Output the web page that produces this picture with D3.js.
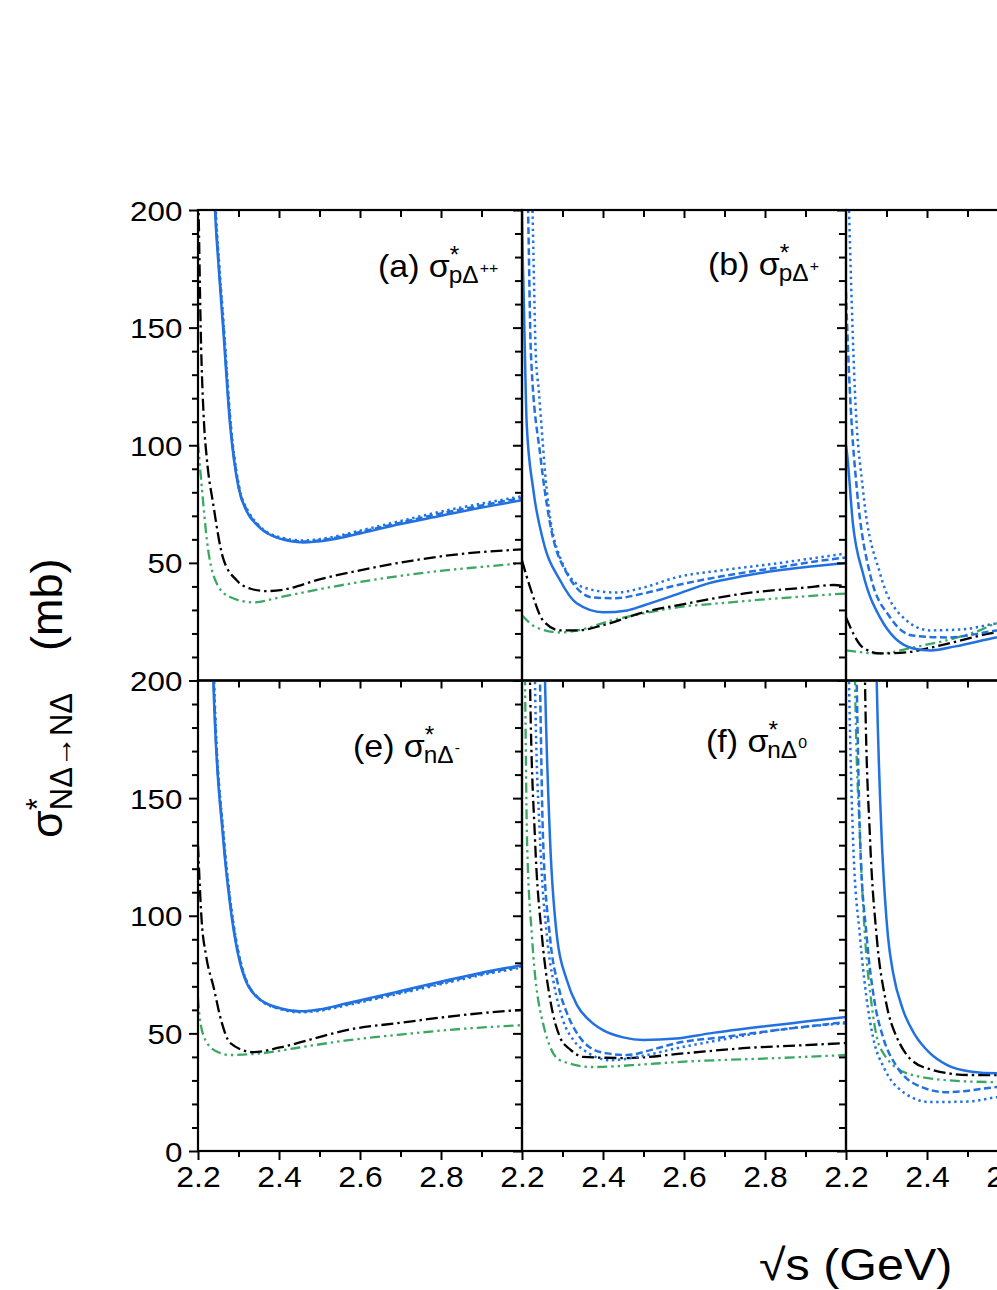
<!DOCTYPE html>
<html><head><meta charset="utf-8">
<script src="https://cdn.jsdelivr.net/npm/d3@7"></script>
<style>html,body{margin:0;padding:0;background:#fff;overflow:hidden}</style>
</head><body>
<svg id="chart" width="997" height="1290"></svg>
<script>
// ---------------- data ----------------
const xTickLabels = [2.2, 2.4, 2.6, 2.8];
const xMinorTicks = [2.3, 2.5, 2.7, 2.9];
const yMajorTicks = [0, 50, 100, 150, 200];
const yMinorTicks = [10,20,30,40,60,70,80,90,110,120,130,140,160,170,180,190];
const seriesNames = ["solid", "dashed", "dotted", "dashdot", "dashdotdot"];

// panel (a) sigma*_{p Delta++}
const aSolid  = [[2.236,230],[2.242,200],[2.25,178],[2.262,150],[2.279,109],[2.30,82],[2.32,72],[2.346,66],[2.40,60.4],[2.46,58.7],[2.52,59.6],[2.6,62.5],[2.7,66.5],[2.8,70],[2.9,73.5],[3.0,76.6]];
const aDashed = [[2.237,230],[2.243,200],[2.251,178],[2.263,150],[2.28,109],[2.301,82],[2.322,72],[2.348,66],[2.40,60.6],[2.46,59.1],[2.52,60.1],[2.6,63.1],[2.7,67.1],[2.8,71],[2.9,74.4],[3.0,77.6]];
const aDotted = [[2.238,230],[2.244,200],[2.252,178],[2.264,150],[2.281,109],[2.302,82],[2.324,72],[2.35,66],[2.40,61],[2.46,59.5],[2.52,60.6],[2.6,63.7],[2.7,67.8],[2.8,71.8],[2.9,75.2],[3.0,78.3]];
const aBlack  = [[2.2,215],[2.2015,200],[2.2066,150],[2.215,109],[2.2214,95],[2.238,74.5],[2.262,52],[2.2955,42.6],[2.33,39],[2.37,38],[2.41,38.6],[2.5,43],[2.6,46.8],[2.73,51],[2.86,54],[3.0,55.7]];
const aGreen  = [[2.2,101],[2.21,81],[2.222,59.6],[2.247,41],[2.279,35.5],[2.336,33.2],[2.40,35.3],[2.5,38.8],[2.57,41],[2.7,44.5],[2.81,46.8],[2.9,48.3],[3.0,49.8]];

// panel (b) sigma*_{p Delta+}
const bSolid  = [[2.1995,210],[2.2,200],[2.204,165],[2.2074,137],[2.2116,109],[2.228,81],[2.252,59.6],[2.294,42.6],[2.335,32.8],[2.40,29],[2.46,29.8],[2.5,31.9],[2.58,36.5],[2.66,41.3],[2.75,44.5],[2.83,46.8],[2.92,48.6],[3.0,50]];
const bDashed = [[2.213,215],[2.215,200],[2.222,139],[2.2457,95],[2.269,67],[2.311,45.5],[2.375,35.3],[2.43,35],[2.5,37],[2.58,40.4],[2.7,44.5],[2.83,48],[2.92,50.5],[3.0,52.3]];
const bDotted = [[2.224,215],[2.226,200],[2.234,139],[2.2416,123],[2.261,81],[2.294,52.3],[2.351,39.6],[2.43,37.4],[2.5,39.5],[2.58,43.8],[2.7,47],[2.83,49.8],[2.92,52],[3.0,54]];
const bBlack  = [[2.2,51],[2.22,39.6],[2.252,25.5],[2.294,21.3],[2.335,21.3],[2.4,23.5],[2.5,29],[2.6,32.5],[2.75,37],[2.9,39.5],[2.97,40.6],[3.0,40]];
const bGreen  = [[2.2,27.7],[2.235,22.6],[2.294,20.4],[2.35,21.8],[2.42,25.5],[2.5,28.5],[2.58,31],[2.7,33],[2.83,34.9],[3.0,37]];

// panel (c)
const cSolid  = [[2.2,100],[2.2025,96.6],[2.217,66.8],[2.242,45.5],[2.284,26.8],[2.366,13.6],[2.41,12.8],[2.47,14.5],[2.57,18.3],[2.7,22]];
const cDashed = [[2.2,165],[2.2025,152],[2.212,115],[2.227,81],[2.259,45.5],[2.309,26.8],[2.365,19.1],[2.449,18.3],[2.573,21.3],[2.7,24]];
const cDotted = [[2.205,215],[2.2074,200],[2.222,123],[2.242,81],[2.284,45.5],[2.341,26.8],[2.407,21.3],[2.49,21.8],[2.573,24.3],[2.7,26.5]];
const cBlack  = [[2.2,26.8],[2.242,14],[2.284,11.5],[2.35,12],[2.41,14],[2.556,20],[2.7,24]];
const cGreen  = [[2.2,12.8],[2.284,11.5],[2.365,14],[2.53,21.3],[2.573,24.3],[2.7,26]];

// panel (e) sigma*_{n Delta-}
const eSolid  = [[2.235,225],[2.2378,200],[2.262,133],[2.279,105],[2.3037,80],[2.3457,65.4],[2.4025,60.7],[2.452,59.4],[2.5,60.2],[2.568,62.8],[2.7,68],[2.815,72.6],[2.9,75.8],[3.0,79]];
const eDashed = [[2.236,225],[2.2388,200],[2.263,133],[2.280,105],[2.305,80],[2.347,65.4],[2.404,60.5],[2.454,59.3],[2.5,60],[2.568,62.4],[2.7,67.5],[2.815,72],[2.9,75.3],[3.0,78.5]];
const eDotted = [[2.237,225],[2.2398,200],[2.264,133],[2.281,105],[2.306,80],[2.348,65],[2.405,60.2],[2.455,59],[2.5,59.6],[2.568,62],[2.7,67],[2.815,71.5],[2.9,74.8],[3.0,78]];
const eBlack  = [[2.2,130],[2.209,98],[2.22,83],[2.238,70],[2.258,55],[2.279,46],[2.3366,42],[2.4025,44],[2.48,47.5],[2.567,51.4],[2.7,54.5],[2.814,57],[2.9,58.6],[3.0,60]];
const eGreen  = [[2.2,65],[2.205,55.6],[2.222,46],[2.25,42],[2.279,40.8],[2.36,41.6],[2.45,44],[2.567,47],[2.7,49.5],[2.814,51.4],[3.0,53.5]];

// panel (f) sigma*_{n Delta0}
const fSolid  = [[2.254,225],[2.2568,200],[2.2691,133],[2.2864,91],[2.31,73],[2.3358,62],[2.37,55],[2.4,51.4],[2.45,48.3],[2.5,47.2],[2.58,47.8],[2.664,50],[2.8,53],[2.9,55],[3.0,57]];
const fDashed = [[2.242,225],[2.2444,200],[2.2519,133],[2.2691,91],[2.29,70],[2.3111,58.6],[2.34,49],[2.3679,44],[2.41,41.5],[2.4593,40.8],[2.52,43],[2.5827,45.9],[2.7,48.5],[2.8296,51.4],[3.0,54.8]];
const fDotted = [[2.23,225],[2.232,200],[2.2444,133],[2.2617,91],[2.28,70],[2.3012,55.6],[2.33,46.5],[2.3605,42],[2.4173,38.6],[2.5,40.5],[2.5827,43.7],[2.7,47.5],[2.83,51.4],[3.0,54.3]];
const fBlack  = [[2.218,225],[2.2198,200],[2.232,133],[2.2494,91],[2.27,64],[2.2938,48.4],[2.32,43],[2.3506,40],[2.4593,39.5],[2.6,41.5],[2.7457,43.7],[2.9,45],[3.0,45.9]];
const fGreen  = [[2.205,225],[2.2074,200],[2.2123,133],[2.2247,91],[2.2519,54.3],[2.2938,38.6],[2.3753,35.7],[2.5,36.8],[2.5827,37.8],[2.83,39.5],[3.0,40.8]];

// panel (g)
const gSolid  = [[2.273,225],[2.2758,200],[2.2881,133],[2.296,108],[2.3037,91],[2.316,76],[2.3407,60],[2.37,49.5],[2.4074,41.6],[2.45,36.5],[2.5062,33.8],[2.5728,33],[2.7,34]];
const gDashed = [[2.224,225],[2.2264,200],[2.2346,133],[2.2511,91],[2.27,64],[2.2914,48.4],[2.325,36],[2.3654,28.9],[2.4494,25],[2.5728,27.2],[2.7,29]];
const gDotted = [[2.205,225],[2.2074,200],[2.2173,133],[2.2346,91],[2.25,66],[2.2667,48.4],[2.295,35],[2.3259,27.2],[2.4074,20.8],[2.5,21],[2.5728,22.9],[2.7,25]];
const gBlack  = [[2.245,225],[2.2469,200],[2.2593,133],[2.2758,91],[2.298,64],[2.3252,48.4],[2.3901,35.7],[2.5062,32.3],[2.5556,32.3],[2.7,33]];
const gGreen  = [[2.22,225],[2.2222,200],[2.2346,133],[2.2469,91],[2.262,64],[2.284,44],[2.3506,33],[2.4494,30.1],[2.5728,29.3],[2.7,30]];

const panelLetters = ["(a)", "(b)", "(c)", "(e)", "(f)", "(g)"];
const panelSubs    = ["pΔ", "pΔ", "", "nΔ", "nΔ", ""];
const panelSups    = ["++", "+", "", "-", "0", ""];

// ---------------- layout / style ----------------
const FONT = "'Liberation Sans', Arial, Helvetica, sans-serif";
const L = 198, T = 210, PW = 324, PH = 470.5;
const BLUE = "#2271e0", GREEN = "#3aa862", BLACK = "#000";
const styles = {
  solid:      {color: BLUE,  dash: null,               width: 2.5},
  dashed:     {color: BLUE,  dash: "7,3.5",            width: 2.5},
  dotted:     {color: BLUE,  dash: "2.4,3.6",          width: 2.5},
  dashdot:    {color: BLACK, dash: "12,4,2.4,4",       width: 2.3},
  dashdotdot: {color: GREEN, dash: "10,4,2.4,4,2.4,4", width: 2.3}
};
const panels = [
  {col:0,row:0,series:[aSolid,aDashed,aDotted,aBlack,aGreen],lab:0,lx:180,ly:67},
  {col:1,row:0,series:[bSolid,bDashed,bDotted,bBlack,bGreen],lab:1,lx:186,ly:65},
  {col:2,row:0,series:[cSolid,cDashed,cDotted,cBlack,cGreen],lab:2,lx:999,ly:65},
  {col:0,row:1,series:[eSolid,eDashed,eDotted,eBlack,eGreen],lab:3,lx:155,ly:76},
  {col:1,row:1,series:[fSolid,fDashed,fDotted,fBlack,fGreen],lab:4,lx:184,ly:71},
  {col:2,row:1,series:[gSolid,gDashed,gDotted,gBlack,gGreen],lab:5,lx:999,ly:71}
];

const svg = d3.select("#chart").style("font-family", FONT);
const defs = svg.append("defs");

// one text element with tspans: main, superscript star, subscript (+ its superscript), tail
function richLabel(parent, o) {
  const t = parent.append("text").attr("transform", o.transform).attr("fill", "#000");
  t.append("tspan").attr("font-size", o.main).text(o.text);
  const st = t.append("tspan").attr("font-size", o.starSize).attr("dy", o.starDy).attr("dx", o.starDx).text("*");
  const sw = st.node().getComputedTextLength();
  t.append("tspan").attr("font-size", o.subSize).attr("dx", -sw + o.subDx)
    .attr("dy", o.subDy - o.starDy).text(o.sub);
  let back = -o.subDy;
  if (o.sup) {
    t.append("tspan").attr("font-size", o.supSize).attr("dx", 1).attr("dy", o.supDy).text(o.sup);
    back -= o.supDy;
  }
  if (o.tail) {
    t.append("tspan").attr("font-size", o.main).attr("dx", o.tailDx).attr("dy", back).text(o.tail);
  }
  return t;
}

panels.forEach((p, i) => {
  const x0 = L + p.col * PW, y0 = T + p.row * PH;
  const x = d3.scaleLinear().domain([2.2, 3.0]).range([x0, x0 + PW]);
  const y = d3.scaleLinear().domain([0, 200]).range([y0 + PH, y0]);
  const cid = "clip" + i;
  defs.append("clipPath").attr("id", cid).append("rect")
    .attr("x", x0).attr("y", y0).attr("width", PW).attr("height", PH);
  const g = svg.append("g");
  const line = d3.line().x(d => x(d[0])).y(d => y(d[1])).curve(d3.curveMonotoneX);
  const order = [4, 3, 2, 1, 0];
  const lg = g.append("g").attr("clip-path", `url(#${cid})`);
  order.forEach(k => {
    const st = styles[seriesNames[k]];
    lg.append("path").datum(p.series[k]).attr("d", line)
      .attr("fill", "none").attr("stroke", st.color).attr("stroke-width", st.width)
      .attr("stroke-dasharray", st.dash).attr("stroke-linejoin", "round");
  });

  // top ticks (inward)
  const topMaj = d3.axisTop(x).tickValues(xTickLabels.filter(v => v > 2.2)).tickSize(-8).tickFormat("");
  const topMin = d3.axisTop(x).tickValues(xMinorTicks).tickSize(-7).tickFormat("");
  [topMaj, topMin].forEach(a => g.append("g").attr("transform", `translate(0,${y0})`).call(a)
    .call(s => s.select(".domain").remove()).selectAll("line").attr("stroke-width", 2));
  // right ticks (inward)
  const rMaj = d3.axisRight(y).tickValues(yMajorTicks).tickSize(-9).tickFormat("");
  const rMin = d3.axisRight(y).tickValues(yMinorTicks).tickSize(-7).tickFormat("");
  [rMaj, rMin].forEach(a => g.append("g").attr("transform", `translate(${x0 + PW},0)`).call(a)
    .call(s => s.select(".domain").remove()).selectAll("line").attr("stroke-width", 2));
  // left ticks (outward) with labels on first column
  if (p.col === 0) {
    const vals = p.row === 0 ? yMajorTicks.filter(v => v > 0) : yMajorTicks;
    const lMaj = d3.axisLeft(y).tickValues(vals).tickSize(9).tickPadding(5).tickFormat(d3.format("d"));
    const lMin = d3.axisLeft(y).tickValues(yMinorTicks).tickSize(6).tickFormat("");
    const la = g.append("g").attr("transform", `translate(${x0},0)`).call(lMaj);
    la.select(".domain").remove();
    la.selectAll("line").attr("stroke-width", 2);
    la.selectAll("text").attr("font-size", 28).attr("fill", "#000").attr("font-family", FONT)
      .attr("dy", "0.36em").attr("transform", "scale(1.12,1)");
    g.append("g").attr("transform", `translate(${x0},0)`).call(lMin)
      .call(s => s.select(".domain").remove()).selectAll("line").attr("stroke-width", 2);
  }
  // bottom ticks (outward) with labels on bottom row
  if (p.row === 1) {
    const bMaj = d3.axisBottom(x).tickValues(xTickLabels).tickSize(9).tickPadding(6).tickFormat(d3.format(".1f"));
    const bMin = d3.axisBottom(x).tickValues(xMinorTicks).tickSize(6).tickFormat("");
    const ba = g.append("g").attr("transform", `translate(0,${y0 + PH})`).call(bMaj);
    ba.select(".domain").remove();
    ba.selectAll("line").attr("stroke-width", 2);
    ba.selectAll("text").attr("font-size", 29).attr("fill", "#000").attr("font-family", FONT)
      .attr("transform", "scale(1.1,1)");
    g.append("g").attr("transform", `translate(0,${y0 + PH})`).call(bMin)
      .call(s => s.select(".domain").remove()).selectAll("line").attr("stroke-width", 2);
  }
  // frame
  g.append("rect").attr("x", x0).attr("y", y0).attr("width", PW).attr("height", PH)
    .attr("fill", "none").attr("stroke", "#000").attr("stroke-width", 2.2);

  // panel label
  if (panelSubs[p.lab]) {
    richLabel(svg, {
      transform: `translate(${x0 + p.lx},${y0 + p.ly}) scale(1.06,1)`,
      text: panelLetters[p.lab] + " σ", main: 32,
      starDx: 0, starDy: -14, starSize: 23,
      sub: panelSubs[p.lab], subDx: -1, subDy: 6, subSize: 23,
      sup: panelSups[p.lab], supDy: -10, supSize: 15
    });
  }
});

// y axis title
richLabel(svg, {
  transform: "translate(62,838) rotate(-90)",
  text: "σ", main: 45,
  starDx: 0, starDy: -14, starSize: 31,
  sub: "NΔ→NΔ", subDx: 0, subDy: 10, subSize: 31,
  tail: "(mb)", tailDx: 42
});

// x axis title
svg.append("text").attr("transform", "translate(759,1280) scale(1.1,1)")
  .attr("font-size", 44).attr("fill", "#000").text("√s (GeV)");
</script>
</body></html>
